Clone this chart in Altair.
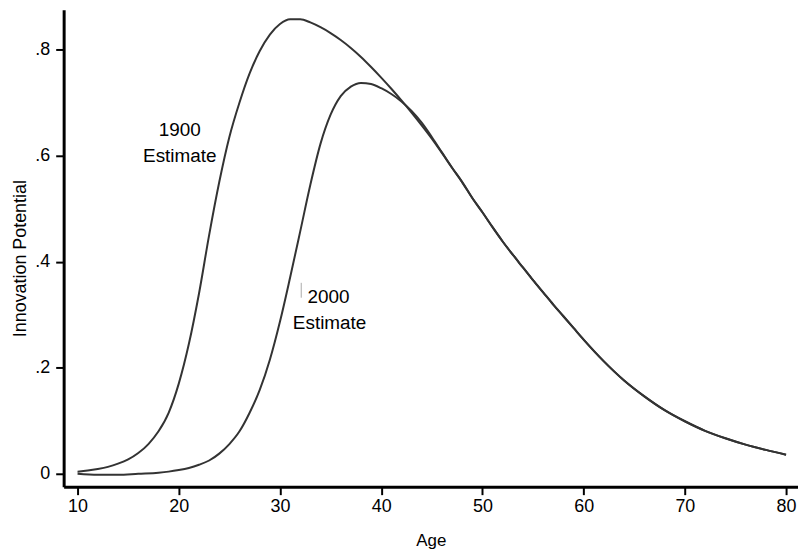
import altair as alt
import pandas as pd

# Age grid and curve values
ages_1900 = [10, 11, 12, 13, 14, 15, 16, 17, 18, 19, 20, 21, 22, 23, 24, 25, 26, 27, 28, 29,
             30, 31, 32, 33, 34, 35, 36, 37, 38, 39, 40, 41, 42, 43, 44, 45, 46, 47, 48, 49,
             50, 51, 52, 53, 54, 55, 56, 57, 58, 59, 60, 62, 64, 66, 68, 70, 72, 74, 76, 78, 80]
vals_1900 = [0.004, 0.006, 0.009, 0.013, 0.019, 0.027, 0.039, 0.056, 0.08, 0.115,
             0.17, 0.245, 0.34, 0.45, 0.55, 0.635, 0.70, 0.755, 0.797, 0.828,
             0.848, 0.857, 0.857, 0.851, 0.842, 0.831, 0.818, 0.803, 0.786, 0.767,
             0.747, 0.726, 0.704, 0.681, 0.657, 0.632, 0.605, 0.577, 0.55, 0.52,
             0.493, 0.465, 0.438, 0.413, 0.389, 0.365, 0.342, 0.319, 0.297, 0.275,
             0.253, 0.212, 0.176, 0.146, 0.12, 0.099, 0.081, 0.067, 0.055, 0.045, 0.036]

ages_2000 = [10, 12, 14, 16, 18, 19, 20, 21, 22, 23, 24, 25, 26, 27, 28, 29,
             30, 31, 32, 33, 34, 35, 36, 37, 38, 39, 40, 41, 42, 43, 44, 45, 46, 47, 48, 49,
             50, 51, 52, 53, 54, 55, 56, 57, 58, 59, 60, 62, 64, 66, 68, 70, 72, 74, 76, 78, 80]
vals_2000 = [0.0, -0.002, -0.002, 0.0, 0.002, 0.004, 0.007, 0.011, 0.017, 0.025,
             0.038, 0.056, 0.08, 0.115, 0.158, 0.215, 0.287, 0.37, 0.457, 0.545,
             0.622, 0.677, 0.712, 0.73, 0.737, 0.735, 0.727, 0.716, 0.702, 0.684, 0.662,
             0.635, 0.606, 0.577, 0.55, 0.52,
             0.493, 0.465, 0.438, 0.413, 0.389, 0.365, 0.342, 0.319, 0.297, 0.275,
             0.253, 0.212, 0.176, 0.146, 0.12, 0.099, 0.081, 0.067, 0.055, 0.045, 0.036]

label_texts = ["1900", "Estimate", "2000", "Estimate"]
label_ages = [20.1, 20.1, 34.8, 34.9]
label_vals = [0.648, 0.600, 0.333, 0.285]

x_ticks = [10, 20, 30, 40, 50, 60, 70, 80]
y_ticks = [0, 0.2, 0.4, 0.6, 0.8]

curves = pd.concat([
    pd.DataFrame({"age": ages_1900, "value": vals_1900, "series": "1900"}),
    pd.DataFrame({"age": ages_2000, "value": vals_2000, "series": "2000"}),
])
labels = pd.DataFrame({"age": label_ages, "value": label_vals, "text": label_texts})
mark_df = pd.DataFrame({"age": [32.1], "value": [0.332], "value2": [0.36]})

xs = alt.Scale(domain=[8.626, 81.18], nice=False, zero=False)
ys = alt.Scale(domain=[-0.0244, 0.875], nice=False, zero=False)

FONT = "Liberation Sans"

x_axis = alt.Axis(values=x_ticks, title="Age", grid=False, tickSize=8, tickWidth=2,
                  tickColor="black", domainColor="black", domainWidth=3,
                  labelFontSize=18, labelColor="black", labelPadding=3,
                  titleFontSize=17, titleFontWeight="normal", titleColor="black",
                  titlePadding=17, labelFont=FONT, titleFont=FONT)
y_axis = alt.Axis(values=y_ticks, title="Innovation Potential", grid=False, tickSize=8,
                  tickWidth=2, tickColor="black", domainColor="black", domainWidth=3,
                  labelFontSize=18, labelColor="black", labelPadding=6,
                  labelExpr="datum.value == 0 ? '0' : '.' + round(datum.value * 10)",
                  titleFontSize=18, titleFontWeight="normal", titleColor="black",
                  titlePadding=5, titleY=250, labelFont=FONT, titleFont=FONT)

lines = alt.Chart(curves).mark_line(color="#333333", strokeWidth=2, interpolate="monotone").encode(
    x=alt.X("age:Q", scale=xs, axis=x_axis),
    y=alt.Y("value:Q", scale=ys, axis=y_axis),
    detail="series:N",
)

texts = alt.Chart(labels).mark_text(fontSize=19, font=FONT, color="black",
                                    align="center", baseline="middle").encode(
    x=alt.X("age:Q", scale=xs),
    y=alt.Y("value:Q", scale=ys),
    text="text:N",
)

tick = alt.Chart(mark_df).mark_rule(color="#aaaaaa", strokeWidth=1).encode(
    x=alt.X("age:Q", scale=xs),
    y=alt.Y("value:Q", scale=ys),
    y2="value2:Q",
)

chart = alt.layer(lines, texts, tick).properties(
    width=739, height=480,
    autosize=alt.AutoSizeParams(type="none"),
    padding={"left": 56, "top": 0, "right": 0, "bottom": 66},
    background="white",
).configure_view(stroke=None)

chart.save("out.html", embed_options={"renderer": "svg", "actions": False})
